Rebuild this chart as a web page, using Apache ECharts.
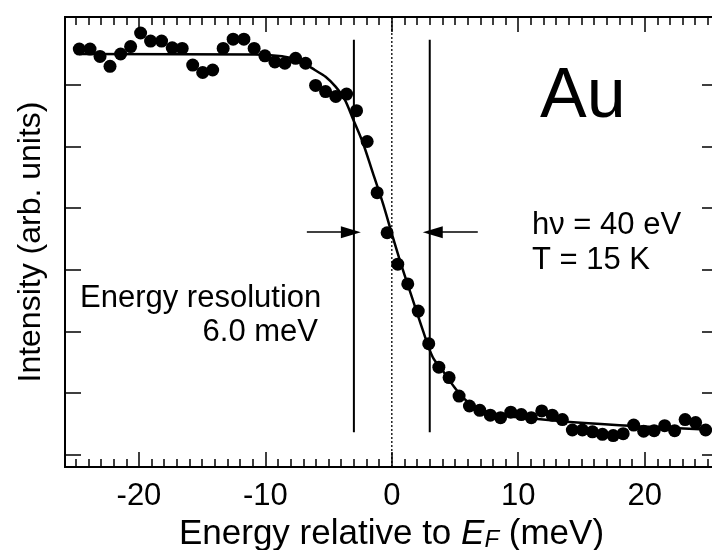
<!DOCTYPE html>
<html>
<head>
<meta charset="utf-8">
<script src="https://cdn.jsdelivr.net/npm/echarts@6/dist/echarts.min.js"></script>
<style>
  html, body { margin: 0; padding: 0; background: #fff; }
  #chart { width: 712px; height: 550px; }
</style>
</head>
<body>
<div id="chart"></div>
<script>
// measured points (meV, arb. units)
var energy = [-24.72, -23.87, -23.08, -22.29, -21.45, -20.66, -19.87, -19.08, -18.21, -17.37,
  -16.58, -15.75, -14.96, -14.17, -13.34, -12.55, -11.70, -10.89, -10.04, -9.25,
  -8.46, -7.61, -6.82, -6.03, -5.24, -4.43, -3.58, -2.79, -1.95, -1.16,
  -0.37, 0.47, 1.26, 2.09, 2.92, 3.72, 4.53, 5.32, 6.14, 6.96,
  7.79, 8.60, 9.41, 10.24, 11.03, 11.86, 12.69, 13.49, 14.28, 15.08,
  15.87, 16.66, 17.51, 18.30, 19.13, 19.92, 20.75, 21.58, 22.37, 23.20,
  24.03, 24.82];
var intensity = [6.58, 6.58, 6.46, 6.30, 6.50, 6.62, 6.84, 6.71, 6.71, 6.60,
  6.59, 6.32, 6.20, 6.24, 6.59, 6.74, 6.74, 6.59, 6.47, 6.37,
  6.35, 6.43, 6.35, 5.99, 5.89, 5.81, 5.85, 5.58, 5.08, 4.25,
  3.60, 3.09, 2.77, 2.33, 1.80, 1.42, 1.25, 0.95, 0.79, 0.72,
  0.64, 0.60, 0.69, 0.65, 0.60, 0.71, 0.64, 0.57, 0.40, 0.40,
  0.37, 0.33, 0.31, 0.34, 0.48, 0.38, 0.39, 0.47, 0.39, 0.57,
  0.52, 0.40];

// fitted curve
var fitEnergy = [-24.74, -10.83, -8.06, -6.88, -6.09, -5.24, -4.45, -3.72, -3.08, -2.29,
  -1.50, -0.71, 0.08, 0.87, 1.66, 2.45, 3.24, 4.03, 4.82, 5.61,
  6.40, 7.35, 8.54, 10.91, 14.07, 19.60, 24.82, 25.8];
var fitIntensity = [6.50, 6.49, 6.44, 6.34, 6.24, 6.13, 5.97, 5.76, 5.45, 5.06,
  4.57, 4.08, 3.53, 3.00, 2.51, 2.02, 1.58, 1.36, 1.13, 0.93,
  0.80, 0.71, 0.64, 0.59, 0.53, 0.46, 0.41, 0.40];

var resolutionEdges = [-3.0, 3.0];
var resolutionSpan = [0.365, 6.73];
var arrowY = 3.61;
var arrowLeft = [-6.72, -3.24];
var arrowRight = [6.80, 3.24];

var xMajor = [-20, -10, 0, 10, 20];
var yTicks = [0, 1, 2, 3, 4, 5, 6];
var xMin = -25.85, xMax = 25.8;
var yMin = -0.2, yMax = 7.1;

var xMinor = [];
for (var i = -25; i <= 25; i++) xMinor.push(i);

var font = 'Liberation Sans, Arial, Helvetica, sans-serif';
var chart = echarts.init(document.getElementById('chart'));

function xAxis(pos, ticks, len, withLabel) {
  var ax = {
    type: 'value',
    position: pos,
    min: xMin,
    max: xMax,
    axisLine: { show: true, onZero: false, lineStyle: { color: '#000', width: 2 } },
    axisTick: { show: true, inside: true, length: len, customValues: ticks, lineStyle: { color: '#000', width: 1.5 } },
    axisLabel: { show: false },
    splitLine: { show: false }
  };
  if (withLabel) {
    ax.axisLabel = { show: true, customValues: xMajor, fontSize: 31, color: '#000', fontFamily: font, margin: 14 };
    ax.name = 'Energy relative to {e|E}{f|F} (meV)';
    ax.nameLocation = 'middle';
    ax.nameGap = 50;
    ax.nameTextStyle = {
      fontSize: 35, color: '#000', fontFamily: font,
      rich: {
        e: { fontSize: 35, fontStyle: 'italic', fontFamily: font, color: '#000' },
        f: { fontSize: 24, fontStyle: 'italic', fontFamily: font, color: '#000', verticalAlign: 'bottom', lineHeight: 4 }
      }
    };
  }
  return ax;
}

function yAxis(pos, withName) {
  var ax = {
    type: 'value',
    position: pos,
    min: yMin,
    max: yMax,
    axisLine: { show: true, onZero: false, lineStyle: { color: '#000', width: 2 } },
    axisTick: { show: true, inside: true, length: 16, customValues: yTicks, lineStyle: { color: '#000', width: 1.5 } },
    axisLabel: { show: false },
    splitLine: { show: false }
  };
  if (withName) {
    ax.name = 'Intensity (arb. units)';
    ax.nameLocation = 'middle';
    ax.nameGap = 18;
    ax.nameTextStyle = { fontSize: 32, color: '#000', fontFamily: font };
  }
  return ax;
}

var points = energy.map(function (e, i) { return [e, intensity[i]]; });
var fit = fitEnergy.map(function (e, i) { return [e, fitIntensity[i]]; });

var option = {
  backgroundColor: '#fff',
  animation: false,
  grid: { left: 65, top: 17, width: 653, height: 450, containLabel: false, outerBoundsMode: 'none' },
  xAxis: [
    xAxis('bottom', xMajor, 15, true),
    xAxis('bottom', xMinor, 8, false),
    xAxis('top', xMajor, 15, false),
    xAxis('top', xMinor, 8, false)
  ],
  yAxis: [yAxis('left', true), yAxis('right', false)],
  series: [
    {
      name: 'E_F',
      type: 'line',
      data: [[0, yMin], [0, yMax]],
      showSymbol: false,
      lineStyle: { color: '#000', width: 1.3, type: [2, 2] },
      silent: true
    },
    {
      name: 'resolution',
      type: 'line',
      data: [[resolutionEdges[0], resolutionSpan[0]], [resolutionEdges[0], resolutionSpan[1]], null,
             [resolutionEdges[1], resolutionSpan[0]], [resolutionEdges[1], resolutionSpan[1]]],
      connectNulls: false,
      showSymbol: false,
      lineStyle: { color: '#000', width: 2 },
      silent: true,
      markLine: {
        silent: true,
        symbol: ['none', 'triangle'],
        symbolSize: [12, 20],
        label: { show: false },
        lineStyle: { color: '#000', width: 1.5, type: 'solid' },
        itemStyle: { color: '#000' },
        data: [
          [{ coord: [arrowLeft[0], arrowY] }, { coord: [arrowLeft[1], arrowY] }],
          [{ coord: [arrowRight[0], arrowY] }, { coord: [arrowRight[1], arrowY] }]
        ]
      }
    },
    {
      name: 'fit',
      type: 'line',
      data: fit,
      smooth: 0.3,
      showSymbol: false,
      lineStyle: { color: '#000', width: 2.5 },
      silent: true
    },
    {
      name: 'data',
      type: 'scatter',
      data: points,
      symbolSize: 13,
      itemStyle: { color: '#000', opacity: 1 }
    }
  ],
  graphic: [
    { type: 'text', x: 540, y: 98, style: { text: 'Au', font: '70px ' + font, fill: '#000', align: 'left', verticalAlign: 'middle' } },
    { type: 'text', x: 532, y: 225, style: { text: 'h\u03bd = 40 eV', font: '31px ' + font, fill: '#000', align: 'left', verticalAlign: 'middle' } },
    { type: 'text', x: 532, y: 260, style: { text: 'T = 15 K', font: '31px ' + font, fill: '#000', align: 'left', verticalAlign: 'middle' } },
    { type: 'text', x: 80, y: 298, style: { text: 'Energy resolution', font: '31px ' + font, fill: '#000', align: 'left', verticalAlign: 'middle' } },
    { type: 'text', x: 318, y: 332, style: { text: '6.0 meV', font: '31px ' + font, fill: '#000', align: 'right', verticalAlign: 'middle' } }
  ]
};

chart.setOption(option);
</script>
</body>
</html>
